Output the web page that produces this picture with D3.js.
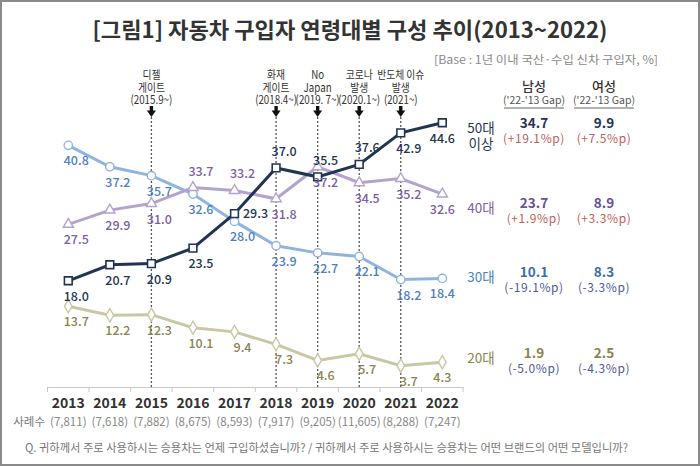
<!DOCTYPE html>
<html><head><meta charset="utf-8">
<script src="https://cdn.jsdelivr.net/npm/d3@7"></script>
<style>
html,body{margin:0;padding:0;background:#fff;}
svg text{font-family:"Noto Sans CJK KR","Noto Sans",sans-serif;}
</style></head>
<body><svg id="chart" width="700" height="466"></svg>
<script>
// ---------- data ----------
const years = [2013,2014,2015,2016,2017,2018,2019,2020,2021,2022];
const sampleSizes = ["(7,811)","(7,618)","(7,882)","(8,675)","(8,593)","(7,917)","(9,205)","(11,605)","(8,288)","(7,247)"];
const age50 = [18.0,20.7,20.9,23.5,29.3,37.0,35.5,37.6,42.9,44.6];
const age40 = [27.5,29.9,31.0,33.7,33.2,31.8,37.2,34.5,35.2,32.6];
const age30 = [40.8,37.2,35.7,32.6,28.0,23.9,22.7,22.1,18.2,18.4];
const age20 = [13.7,12.2,12.3,10.1,9.4,7.3,4.6,5.7,3.7,4.3];
const seriesNames = ["50대|이상","40대","30대","20대"];
const eventYears = [2015,2018,2019,2020,2021];
const eventLabels = [["디젤","게이트","(2015.9~)"],["화재","게이트","(2018.4~)"],["No","Japan","(2019. 7~)"],["코로나","발생","(2020.1~)"],["반도체 이슈","발생","(2021~)"]];
const maleShare = ["34.7","23.7","10.1","1.9"];
const maleGap = ["+19.1","+1.9","-19.1","-5.0"];
const femaleShare = ["9.9","8.9","8.3","2.5"];
const femaleGap = ["+7.5","+3.3","-3.3","-4.3"];
// label placement: b = below, t = above, r = right
const place50 = ["b","b","b","b","r","t","t","t","b","b"];
const place40 = ["b","b","b","t","t","b","b","b","b","b"];
const place30 = ["b","b","b","b","b","b","b","b","b","b"];
const place20 = ["b","b","b","b","b","b","b","b","b","b"];

// ---------- setup ----------
const svg = d3.select("#chart");
svg.append("rect").attr("x",1).attr("y",1).attr("width",698).attr("height",464)
  .attr("fill","#fff").attr("stroke","#8a8a8a").attr("stroke-width",2);

const x = d3.scaleBand().domain(years).range([47.5,463.1]).padding(0);
const cx = d => x(d) + x.bandwidth()/2;
const y = d3.scaleLinear().domain([0,45]).range([387.7,120.4]);

// condense a text element horizontally (reference uses a narrow font)
function squeeze(sel, f){
  sel.each(function(){
    const w = this.getComputedTextLength();
    d3.select(this).attr("textLength", w*f).attr("lengthAdjust","spacingAndGlyphs");
  });
  return sel;
}

// title
svg.append("text").attr("x",350).attr("y",38).attr("text-anchor","middle")
  .attr("font-size",22).attr("font-weight",700).attr("fill","#333")
  .attr("textLength",515).attr("lengthAdjust","spacingAndGlyphs")
  .text("[그림1] 자동차 구입자 연령대별 구성 추이(2013~2022)");
svg.append("text").attr("x",658).attr("y",64).attr("text-anchor","end")
  .attr("font-size",11.5).attr("fill","#8a8a8a")
  .attr("textLength",224).attr("lengthAdjust","spacingAndGlyphs")
  .text("[Base : 1년 이내 국산·수입 신차 구입자, %]");

// axis
const axis = d3.axisBottom(x).tickSize(0).tickFormat("");
const ag = svg.append("g").attr("transform","translate(0,387)").call(axis);
ag.select(".domain").attr("stroke","#c8c8c8").attr("stroke-width",1);
const edges = years.map(d=>x(d)).concat([x(years[years.length-1])+x.bandwidth()]);
svg.append("g").selectAll("line").data(edges).join("line")
  .attr("x1",d=>d).attr("x2",d=>d).attr("y1",387).attr("y2",392)
  .attr("stroke","#c8c8c8");
svg.append("g").selectAll("text").data(years).join("text")
  .attr("x",d=>cx(d)).attr("y",408).attr("text-anchor","middle")
  .attr("font-size",14).attr("font-weight",700).attr("fill","#333").text(d=>d);
svg.append("text").attr("x",45).attr("y",426).attr("text-anchor","end")
  .attr("font-size",11.5).attr("fill","#777").text("사례수");
svg.append("g").selectAll("text").data(sampleSizes).join("text")
  .attr("x",(d,i)=>cx(years[i])).attr("y",426).attr("text-anchor","middle")
  .attr("font-size",11.5).attr("fill","#888").text(d=>d);
svg.append("text").attr("x",25).attr("y",452)
  .attr("font-size",11.5).attr("fill","#777")
  .attr("textLength",603).attr("lengthAdjust","spacingAndGlyphs")
  .text("Q. 귀하께서 주로 사용하시는 승용차는 언제 구입하셨습니까? / 귀하께서 주로 사용하시는 승용차는 어떤 브랜드의 어떤 모델입니까?");

// event lines and annotations
eventYears.forEach((yr,i)=>{
  const xx = cx(yr);
  svg.append("line").attr("x1",xx).attr("x2",xx).attr("y1",117).attr("y2",387)
    .attr("stroke","#555").attr("stroke-width",1.3).attr("stroke-dasharray","2,2");
  eventLabels[i].forEach((t,j)=>{
    const tx = svg.append("text").attr("x",xx).attr("y",79+j*12.5).attr("text-anchor","middle")
      .attr("font-size",11.5).attr("fill","#333").text(t);
    squeeze(tx, 0.85);
  });
  svg.append("rect").attr("x",xx-1.7).attr("y",106).attr("width",3.4).attr("height",5).attr("fill","#111");
  svg.append("path").attr("d",`M${xx-4.5},110.5 L${xx+4.5},110.5 L${xx},117 Z`).attr("fill","#111");
});

// series
const series = [
  {vals:age50, place:place50, line:"#1f3552", lab:"#1f3552", marker:"square"},
  {vals:age40, place:place40, line:"#b4a3cf", lab:"#7b5ea7", marker:"triangle"},
  {vals:age30, place:place30, line:"#8fb5df", lab:"#4f80bf", marker:"circle"},
  {vals:age20, place:place20, line:"#cbc7a5", lab:"#8c8350", marker:"diamond"}
];
const drawOrder = [3,2,1,0];
const lineGen = d3.line().x((d,i)=>cx(years[i])).y(d=>y(d));
drawOrder.forEach(k=>{
  const s = series[k];
  svg.append("path").datum(s.vals).attr("d",lineGen)
    .attr("fill","none").attr("stroke",s.line).attr("stroke-width",3);
});
const symMap = {square:d3.symbolSquare, triangle:d3.symbolTriangle, circle:d3.symbolCircle, diamond:d3.symbolDiamond};
const symSize = {square:60, triangle:45, circle:55, diamond:50};
drawOrder.forEach(k=>{
  const s = series[k];
  svg.append("g").selectAll("path").data(s.vals).join("path")
    .attr("transform",(d,i)=>`translate(${cx(years[i])},${y(d)})`)
    .attr("d",d3.symbol().type(symMap[s.marker]).size(symSize[s.marker]))
    .attr("fill","#fff").attr("stroke",s.line)
    .attr("stroke-width",s.marker==="square"?1.6:1.4);
});
// data labels
series.forEach(s=>{
  svg.append("g").selectAll("text").data(s.vals).join("text")
    .attr("x",(d,i)=>{
      const base = cx(years[i]);
      if (s.place[i]==="r") return base+21;
      return base + (i===years.length-1 ? 0 : 8);
    })
    .attr("y",(d,i)=>{
      const p = s.place[i];
      if (p==="t") return y(d)-12;
      if (p==="r") return y(d)+4.5;
      return y(d)+20;
    })
    .attr("text-anchor","middle").attr("font-size",12.5).attr("font-weight",500)
    .attr("fill",s.lab).text(d=>d.toFixed(1));
});

// right-side table
const rowY = [123,203,272,353];
const labColors = ["#1f3552","#7b5ea7","#4f80bf","#8c8350"];
const valColors = ["#1f3552","#6a4f98","#3c6db0","#8c8350"];
const colX = [534,604];
[["남성",534],["여성",604]].forEach(([t,xx])=>{
  svg.append("text").attr("x",xx).attr("y",91).attr("text-anchor","middle")
    .attr("font-size",13).attr("font-weight",500).attr("fill","#333").text(t);
  svg.append("text").attr("x",xx).attr("y",103.5).attr("text-anchor","middle")
    .attr("font-size",10.5).attr("fill","#555").text("('22-'13 Gap)");
  svg.append("line").attr("x1",xx-30).attr("x2",xx+30).attr("y1",108).attr("y2",108)
    .attr("stroke","#999").attr("stroke-width",1.5);
});
seriesNames.forEach((n,i)=>{
  const parts = n.split("|");
  parts.forEach((p,j)=>{
    svg.append("text").attr("x",481).attr("y",(i===0?133:rowY[i]+10)+j*16)
      .attr("text-anchor","middle").attr("font-size",13.5).attr("fill",labColors[i]).text(p);
  });
  [[maleShare,maleGap,colX[0]],[femaleShare,femaleGap,colX[1]]].forEach(([vals,gaps,xx])=>{
    svg.append("text").attr("x",xx).attr("y",rowY[i]+5).attr("text-anchor","middle")
      .attr("font-size",13.5).attr("font-weight",700).attr("fill",valColors[i]).text(vals[i]);
    const g = gaps[i];
    svg.append("text").attr("x",xx).attr("y",rowY[i]+20).attr("text-anchor","middle")
      .attr("font-size",12).attr("letter-spacing",0.6)
      .attr("fill", g.startsWith("+") ? "#c0605a" : "#4d5b9c").text(`(${g}%p)`);
  });
});
</script></body></html>
